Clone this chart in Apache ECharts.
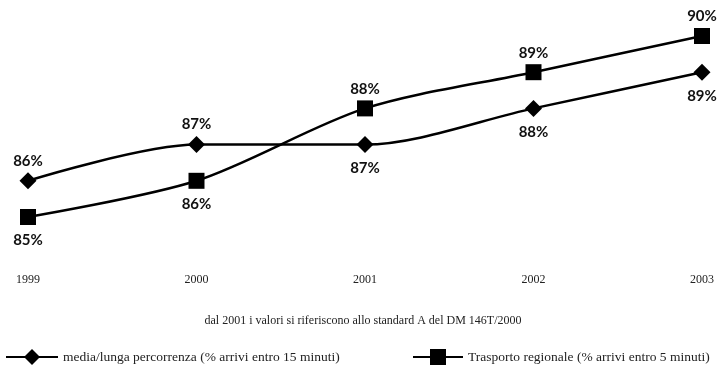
<!DOCTYPE html>
<html>
<head>
<meta charset="utf-8">
<script src="https://cdn.jsdelivr.net/npm/echarts@6/dist/echarts.min.js"></script>
<style>
  html, body { margin: 0; padding: 0; background: #fff; }
  #chart { width: 726px; height: 374px; }
</style>
</head>
<body>
<div id="chart"></div>
<script>
const years = ['1999', '2000', '2001', '2002', '2003']
const mediaLunga = [86, 87, 87, 88, 89]
const regionale = [85, 86, 88, 89, 90]
const note = 'dal 2001 i valori si riferiscono allo standard A del DM 146T/2000'
const nameMedia = 'media/lunga percorrenza (% arrivi entro 15 minuti)'
const nameRegionale = 'Trasporto regionale (% arrivi entro 5 minuti)'

// where each point label sits
const mediaSides = ['top', 'top', 'bottom', 'bottom', 'bottom']
const regionaleSides = ['bottom', 'bottom', 'top', 'top', 'top']

const labelFont = { fontFamily: 'Lato', fontWeight: 'bold', fontSize: 15, color: '#111' }
const serif = 'Liberation Serif'

function withLabels (values, sides) {
  return values.map((v, i) => ({
    value: v,
    label: { position: sides[i], distance: sides[i] === 'bottom' ? 8 : 4 }
  }))
}

const chart = echarts.init(document.getElementById('chart'), null, { renderer: 'canvas' })

chart.setOption({
  animation: false,
  backgroundColor: '#fff',
  graphic: [{
    type: 'text',
    left: 'center',
    top: 315,
    style: { text: note, font: '12px "' + serif + '"', fill: '#222' }
  }],
  legend: [{
    data: [nameMedia],
    left: 5,
    top: 349,
    padding: 0,
    itemWidth: 52,
    itemHeight: 20,
    textStyle: { fontFamily: serif, fontSize: 13.5, color: '#222' }
  }, {
    data: [nameRegionale],
    left: 412,
    top: 349,
    padding: 0,
    itemWidth: 50,
    itemHeight: 20,
    textStyle: { fontFamily: serif, fontSize: 13.5, color: '#222' }
  }],
  grid: { left: 28, right: 24, top: 36, bottom: 157 },
  xAxis: {
    type: 'category',
    data: years,
    boundaryGap: false,
    axisLine: { show: false },
    axisTick: { show: false },
    axisLabel: { margin: 57, fontFamily: serif, fontSize: 12, color: '#222' }
  },
  yAxis: {
    type: 'value',
    min: 85,
    max: 90,
    show: false
  },
  series: [{
    name: nameMedia,
    type: 'line',
    smooth: 0.3,
    data: withLabels(mediaLunga, mediaSides),
    symbol: 'diamond',
    symbolSize: 17,
    lineStyle: { color: '#000', width: 2.5 },
    itemStyle: { color: '#000' },
    label: Object.assign({ show: true, formatter: '{c}%' }, labelFont)
  }, {
    name: nameRegionale,
    type: 'line',
    smooth: 0.3,
    data: withLabels(regionale, regionaleSides),
    symbol: 'rect',
    symbolSize: 16,
    lineStyle: { color: '#000', width: 2.5 },
    itemStyle: { color: '#000' },
    label: Object.assign({ show: true, formatter: '{c}%' }, labelFont)
  }]
})
</script>
</body>
</html>
